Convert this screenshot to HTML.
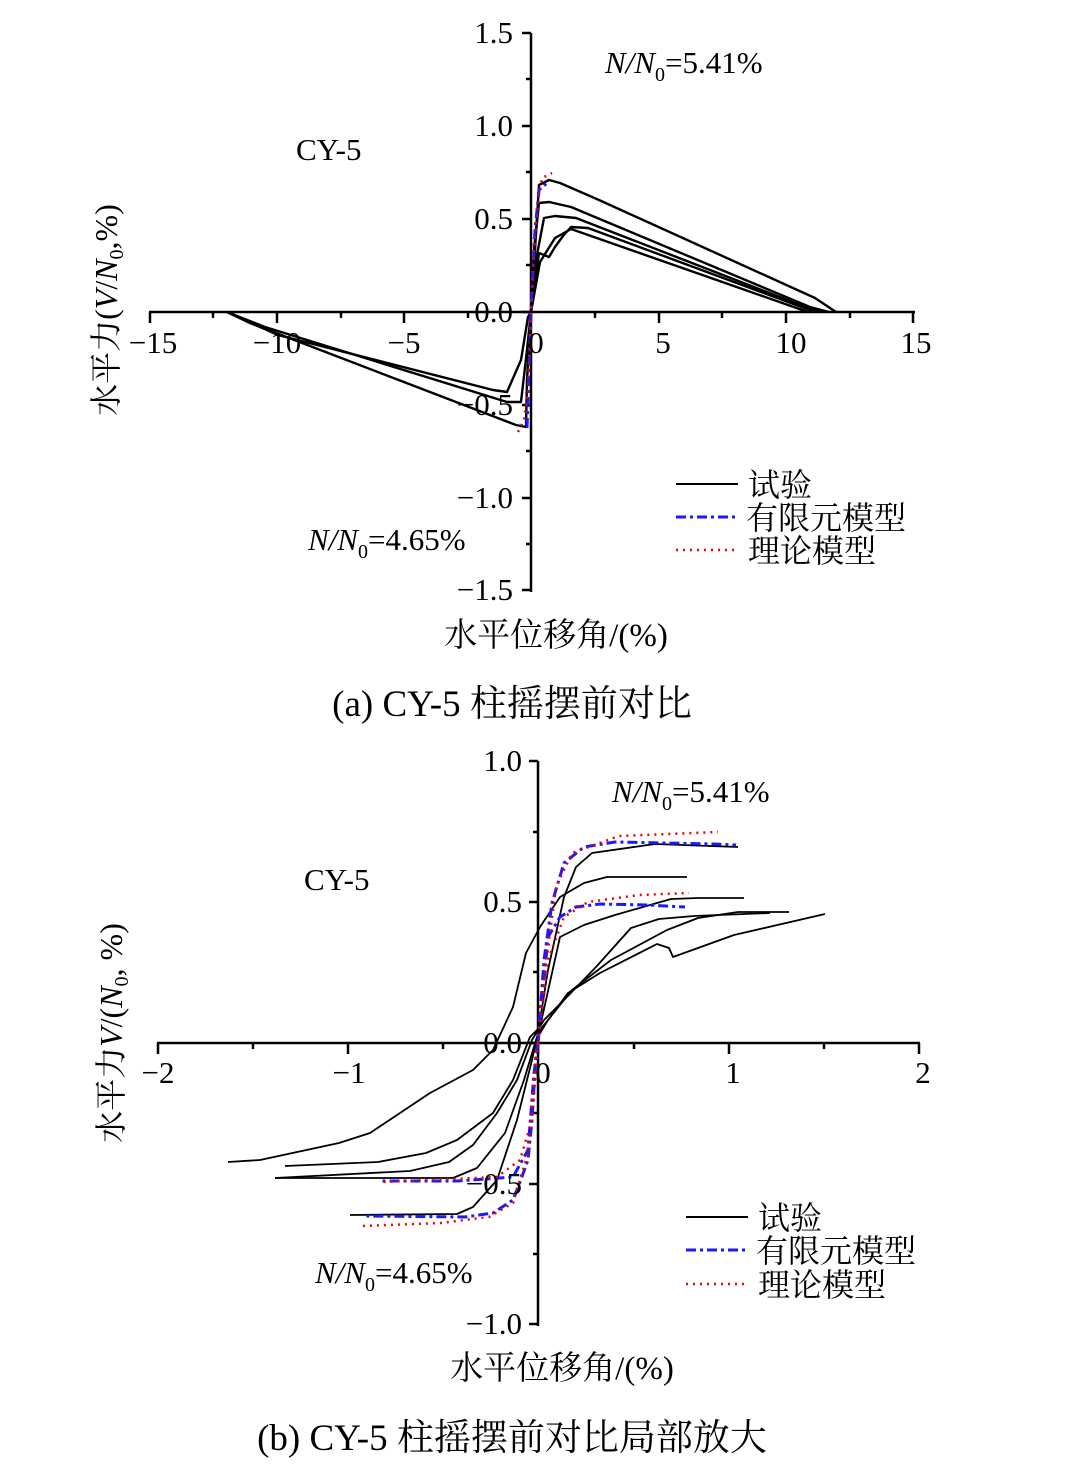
<!DOCTYPE html>
<html><head><meta charset="utf-8"><style>
html,body{margin:0;padding:0;background:#fff;}
svg text{font-family:"Liberation Serif","Noto Serif CJK SC","Noto Sans CJK SC",serif;fill:#000;}
</style></head><body>
<svg width="1079" height="1469" viewBox="0 0 1079 1469" xmlns="http://www.w3.org/2000/svg">
<g stroke="#000" stroke-width="2.5" fill="none">
<line x1="531" y1="33" x2="531" y2="592"/>
<line x1="149" y1="312" x2="915" y2="312"/>
<path d="M531 33h-9M531 126h-9M531 219h-9M531 312h-9M531 405h-9M531 498h-9M531 590h-9 M531 79h-5M531 172h-5M531 265h-5M531 358h-5M531 451h-5M531 544h-5"/>
<path d="M150 312v11M277 312v11M404 312v11M659 312v11M786 312v11M913 312v11M213 312v6M341 312v6M468 312v6M595 312v6M722 312v6M850 312v6"/>
</g>
<g stroke="#000" stroke-width="2.4" fill="none" stroke-linejoin="round">
<polyline points="527,360 531,312 535,250 539,185 549,180 560,183 599,200 815,298 836,312"/>
<polyline points="531,312 534,250 539,203 549,202 571,207 810,307 829,312"/>
<polyline points="531,312 536,260 544,218 555,216 576,218 808,308 824,312"/>
<polyline points="531,312 539,253 549,257 555,247 563,236 571,227 588,228 815,312"/>
<polyline points="531,312 540,262 555,238 571,229 808,312"/>
<polyline points="531,312 527,380 526,427 516,425 250,323 227,312"/>
<polyline points="531,312 528,317 521,360 507,392 493,390 278,335 227,312"/>
<polyline points="531,312 527,350 521,402 507,402 265,327 227,312"/>
</g>
<polyline fill="none" stroke="#1a1aff" stroke-width="3" stroke-dasharray="10,4,3,4" points="527,428 528,400 530,340 532,290 535,230 539,190 548,182"/>
<polyline fill="none" stroke="#e00" stroke-width="2.5" stroke-dasharray="2,5" points="518,432 524,420 528,390 531,312 534,250 538,200 542,178 552,173"/>
<g font-size="31" text-anchor="end">
<text x="513" y="43">1.5</text><text x="513" y="136">1.0</text><text x="513" y="229">0.5</text><text x="513" y="322">0.0</text><text x="513" y="415">−0.5</text><text x="513" y="508">−1.0</text><text x="513" y="600">−1.5</text>
</g>
<g font-size="31" text-anchor="middle">
<text x="153" y="353">−15</text><text x="277" y="353">−10</text><text x="404" y="353">−5</text><text x="536" y="353">0</text><text x="663" y="353">5</text><text x="791" y="353">10</text><text x="916" y="353">15</text>
</g>
<text x="605" y="73" font-size="31" font-style="italic">N/N<tspan font-size="20" dy="8" font-style="normal">0</tspan><tspan dy="-8" font-style="normal">=5.41%</tspan></text>
<text x="296" y="160" font-size="31">CY-5</text>
<text x="308" y="550" font-size="31" font-style="italic">N/N<tspan font-size="20" dy="8" font-style="normal">0</tspan><tspan dy="-8" font-style="normal">=4.65%</tspan></text>
<text transform="translate(117,310) rotate(-90)" font-size="32" text-anchor="middle">水平力(<tspan font-style="italic">V</tspan>/<tspan font-style="italic">N</tspan><tspan font-size="20" dy="6">0</tspan><tspan dy="-6">,%)</tspan></text>
<line x1="676" y1="484" x2="738" y2="484" stroke="#000" stroke-width="2"/>
<line x1="676" y1="517" x2="738" y2="517" stroke="#1a1aff" stroke-width="3" stroke-dasharray="10,4,3,4"/>
<line x1="676" y1="550" x2="738" y2="550" stroke="#e00" stroke-width="2.5" stroke-dasharray="2,5"/>
<g font-size="32"><text x="748" y="496">试验</text><text x="746" y="529">有限元模型</text><text x="748" y="562">理论模型</text></g>
<text x="556" y="646" font-size="33" text-anchor="middle">水平位移角/(%)</text>
<text x="512" y="716" font-size="37" text-anchor="middle">(a) CY-5 柱摇摆前对比</text>

<g stroke="#000" stroke-width="2.5" fill="none">
<line x1="538" y1="761" x2="538" y2="1326"/>
<line x1="157" y1="1043" x2="920" y2="1043"/>
<path d="M538 761h-9M538 902h-9M538 1043h-9M538 1184h-9M538 1324h-9 M538 832h-5M538 972h-5M538 1113h-5M538 1254h-5"/>
<path d="M158 1043v11M348 1043v11M538 1043v11M729 1043v11M919 1043v11M253 1043v6M443 1043v6M634 1043v6M824 1043v6"/>
</g>
<g stroke="#000" stroke-width="1.8" fill="none" stroke-linejoin="round">
<polyline points="350,1215 457,1214 473,1207 497,1180 517,1120 532,1060 538,1033 548,970 564,897 576,867 592,853 655,844 738,847"/>
<polyline points="228,1162 260,1160 339,1143 370,1133 430,1093 473,1070 493,1050 513,1007 526,953 540,927 560,897 584,883 607,877 687,877"/>
<polyline points="285,1166 378,1162 426,1153 457,1140 493,1113 513,1080 530,1037 540,1027 560,937 584,925 615,915 671,899 698,898 744,898"/>
<polyline points="275,1178 410,1171 449,1162 473,1145 497,1113 517,1080 532,1040 544,1020 564,1000 596,967 631,928 659,919 694,916 770,913"/>
<polyline points="275,1178 453,1178 477,1168 505,1133 524,1080 536,1040 548,1020 568,993 600,973 657,944 669,948 673,957 734,935 825,914"/>
<polyline points="536,1040 540,1030 572,990 611,960 667,930 698,918 738,912 789,912"/>
</g>
<g fill="none" stroke="#1a1aff" stroke-width="3" stroke-dasharray="10,4,3,4">
<polyline points="538,1043 544,960 552,903 564,863 584,847 615,842 714,844 736,845"/>
<polyline points="538,1043 548,937 560,917 576,907 600,904 647,905 685,907"/>
<polyline points="538,1043 536,1053 532,1120 528,1160 520,1182 513,1200 493,1213 465,1217 366,1216"/>
<polyline points="538,1043 534,1073 528,1150 513,1177 457,1181 382,1181"/>
</g>
<g fill="none" stroke="#e00" stroke-width="2.5" stroke-dasharray="2,5">
<polyline points="538,1043 544,980 556,887 572,853 619,836 718,832"/>
<polyline points="538,1043 548,960 564,917 588,902 639,895 689,893"/>
<polyline points="538,1043 536,1053 528,1153 513,1203 489,1217 441,1223 362,1226"/>
<polyline points="538,1043 532,1120 520,1160 497,1177 382,1182"/>
</g>
<g font-size="31" text-anchor="end">
<text x="522" y="771">1.0</text><text x="522" y="912">0.5</text><text x="522" y="1053">0.0</text><text x="522" y="1194">−0.5</text><text x="522" y="1334">−1.0</text>
</g>
<g font-size="31" text-anchor="middle">
<text x="158" y="1083">−2</text><text x="349" y="1083">−1</text><text x="543" y="1083">0</text><text x="733" y="1083">1</text><text x="923" y="1083">2</text>
</g>
<text x="612" y="802" font-size="31" font-style="italic">N/N<tspan font-size="20" dy="8" font-style="normal">0</tspan><tspan dy="-8" font-style="normal">=5.41%</tspan></text>
<text x="304" y="890" font-size="31">CY-5</text>
<text x="315" y="1283" font-size="31" font-style="italic">N/N<tspan font-size="20" dy="8" font-style="normal">0</tspan><tspan dy="-8" font-style="normal">=4.65%</tspan></text>
<text transform="translate(122,1033) rotate(-90)" font-size="32" text-anchor="middle">水平力<tspan font-style="italic">V</tspan>/(<tspan font-style="italic">N</tspan><tspan font-size="20" dy="6">0</tspan><tspan dy="-6">, %)</tspan></text>
<line x1="686" y1="1217" x2="748" y2="1217" stroke="#000" stroke-width="2"/>
<line x1="686" y1="1250" x2="748" y2="1250" stroke="#1a1aff" stroke-width="3" stroke-dasharray="10,4,3,4"/>
<line x1="686" y1="1284" x2="748" y2="1284" stroke="#e00" stroke-width="2.5" stroke-dasharray="2,5"/>
<g font-size="32"><text x="758" y="1229">试验</text><text x="756" y="1262">有限元模型</text><text x="758" y="1296">理论模型</text></g>
<text x="562" y="1379" font-size="33" text-anchor="middle">水平位移角/(%)</text>
<text x="512" y="1450" font-size="37" text-anchor="middle">(b) CY-5 柱摇摆前对比局部放大</text>
</svg>
</body></html>
